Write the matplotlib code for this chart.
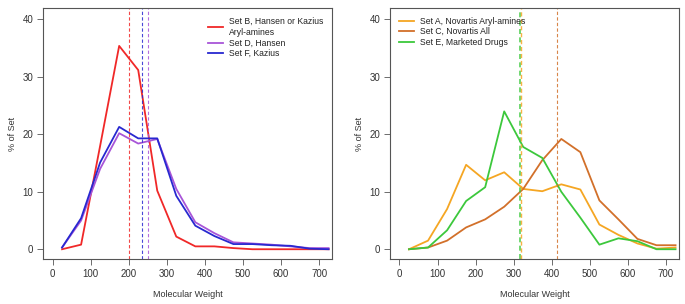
import numpy as np
import matplotlib.pyplot as plt

plt.rcParams['font.family'] = ['Liberation Sans', 'DejaVu Sans']

# bin centres of molecular weight histogram
mw = [25, 75, 125, 175, 225, 275, 325, 375, 425, 475, 525, 575, 625, 675, 725]

# left panel
set_b = [0.0, 0.8, 18.0, 35.4, 31.2, 10.2, 2.2, 0.5, 0.5, 0.2, 0.0, 0.0, 0.0, 0.0, 0.0]
set_d = [0.3, 5.0, 14.0, 20.2, 18.4, 19.2, 10.5, 4.7, 2.8, 1.2, 1.0, 0.8, 0.5, 0.2, 0.2]
set_f = [0.3, 5.4, 15.1, 21.3, 19.3, 19.3, 9.3, 4.1, 2.3, 0.9, 0.9, 0.7, 0.6, 0.1, 0.0]
left_means = {'B': 200, 'F': 234, 'D': 250}

# right panel
set_a = [0.0, 1.5, 7.0, 14.7, 12.0, 13.4, 10.5, 10.1, 11.3, 10.4, 4.3, 2.5, 1.0, 0.1, 0.3]
set_c = [0.0, 0.3, 1.5, 3.8, 5.2, 7.4, 10.5, 15.5, 19.2, 16.9, 8.5, 5.2, 1.8, 0.7, 0.7]
set_e = [0.0, 0.3, 3.3, 8.4, 10.8, 24.0, 17.8, 15.9, 10.0, 5.5, 0.8, 1.9, 1.4, 0.0, 0.0]
right_means = {'E': 316, 'A': 320, 'C': 413}

c_red, c_purple, c_blue = '#f02828', '#a855d8', '#2828d0'
c_orange, c_brown, c_green = '#f5a623', '#d2702a', '#3cc83c'

fig = plt.figure(figsize=(6.85, 3.04), dpi=100)
ax1 = fig.add_axes([0.0628, 0.148, 0.4219, 0.8257])
ax2 = fig.add_axes([0.5693, 0.148, 0.4219, 0.8257])


def style(ax):
    ax.set_xlim(-25, 734)
    ax.set_ylim(-1.7, 42)
    ax.set_xticks(range(0, 701, 100))
    ax.set_yticks(range(0, 41, 10))
    for s in ax.spines.values():
        s.set_color('#555555')
        s.set_linewidth(0.8)
    ax.tick_params(direction='out', length=4, width=0.6, color='#555555',
                   labelsize=7, labelcolor='#333333', pad=3)
    ax.set_xlabel('Molecular Weight', fontsize=6.5, color='#333333', labelpad=8)
    ax.set_ylabel('% of Set', fontsize=6.5, color='#333333', labelpad=4)


def vline(ax, x, color, lw=0.8):
    ax.axvline(x, color=color, lw=lw, alpha=0.85, linestyle=(0, (3, 2)))


def legend(ax, loc):
    leg = ax.legend(loc=loc, frameon=False, fontsize=6.2, handlelength=1.8,
                    handletextpad=0.7, labelspacing=0.18, borderaxespad=0.7,
                    borderpad=0.3)
    for t in leg.get_texts():
        t.set_linespacing(1.35)
        t.set_color('#222222')
    return leg


# left
ax1.plot(mw, set_b, color=c_red, lw=1.3, label='Set B, Hansen or Kazius\nAryl-amines')
ax1.plot(mw, set_d, color=c_purple, lw=1.3, label='Set D, Hansen')
ax1.plot(mw, set_f, color=c_blue, lw=1.3, label='Set F, Kazius')
vline(ax1, left_means['B'], c_red)
vline(ax1, left_means['F'], c_blue)
vline(ax1, left_means['D'], c_purple)
style(ax1)
legend(ax1, 'upper right')

# right
ax2.plot(mw, set_a, color=c_orange, lw=1.3, label='Set A, Novartis Aryl-amines')
ax2.plot(mw, set_c, color=c_brown, lw=1.3, label='Set C, Novartis All')
ax2.plot(mw, set_e, color=c_green, lw=1.3, label='Set E, Marketed Drugs')
vline(ax2, right_means['E'], c_green, lw=1.2)
vline(ax2, right_means['A'], c_orange, lw=1.0)
vline(ax2, right_means['C'], c_brown)
style(ax2)
legend(ax2, 'upper left')

fig.savefig('out.png', dpi=100)
